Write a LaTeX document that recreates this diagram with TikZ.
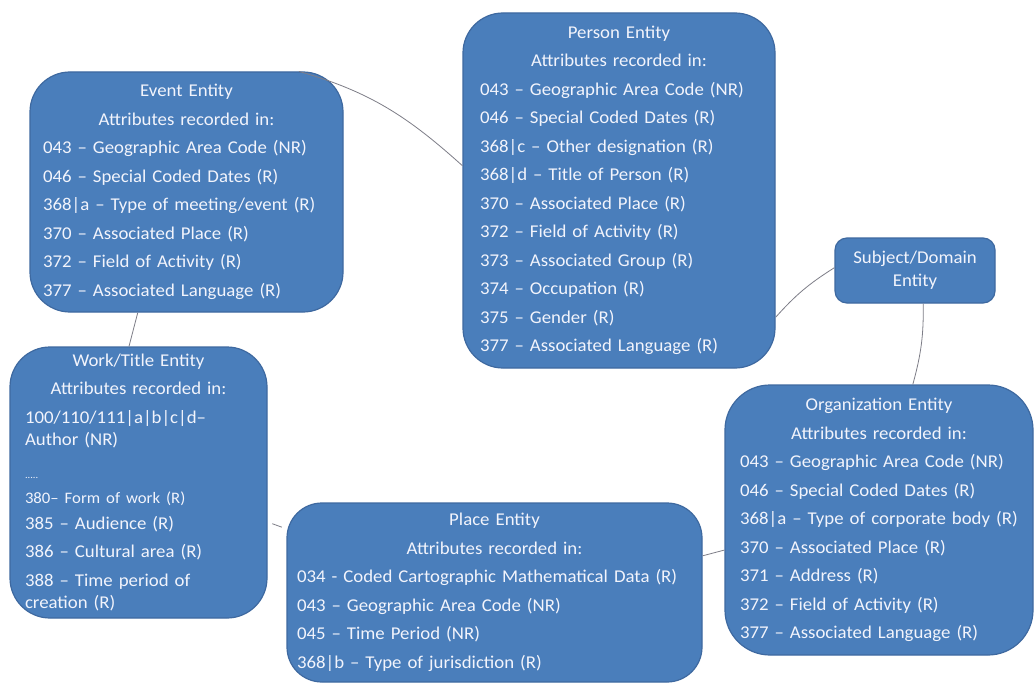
\documentclass[tikz,border=0pt]{standalone}
\usepackage{fontspec}
\setmainfont{Carlito}[FakeStretch=1.045]
\definecolor{boxfill}{RGB}{74,126,187}
\definecolor{boxline}{RGB}{62,105,160}
\definecolor{boxtext}{RGB}{242,244,252}
\definecolor{conncol}{RGB}{125,125,135}
\begin{document}
\begin{tikzpicture}[x=1pt,y=-1pt,
  entity/.style={draw=boxline, line width=1.2pt, fill=boxfill, text=boxtext,
    rounded corners=#1, align=left, inner ysep=0pt,
    font=\fontsize{18}{28.5}\selectfont},
  entity/.default=40pt,
  conn/.style={draw=conncol, line width=0.8pt}]
\useasboundingbox (0,0) rectangle (1035,682);
\fill[white] (0,0) rectangle (1035,682);

\node[entity, minimum width=313pt, minimum height=240pt, text width=287pt, inner xsep=13pt] (event) at (186.5,192) {%
\makebox[\linewidth]{Event Entity}\\
\makebox[\linewidth]{Attributes recorded in:}\\
043 – Geographic Area Code (NR)\\
046 – Special Coded Dates (R)\\
368|a – Type of meeting/event (R)\\
370 – Associated Place (R)\\
372 – Field of Activity (R)\\
377 – Associated Language (R)};

\node[entity, minimum width=312pt, minimum height=355pt, text width=278pt, inner xsep=17pt] (person) at (619,190.5) {%
\makebox[\linewidth]{Person Entity}\\
\makebox[\linewidth]{Attributes recorded in:}\\
043 – Geographic Area Code (NR)\\
046 – Special Coded Dates (R)\\
368|c – Other designation (R)\\
368|d – Title of Person (R)\\
370 – Associated Place (R)\\
372 – Field of Activity (R)\\
373 – Associated Group (R)\\
374 – Occupation (R)\\
375 – Gender (R)\\
377 – Associated Language (R)};

\node[entity=12pt, align=center, minimum width=160pt, minimum height=65pt,
  font=\fontsize{18}{23}\selectfont] (subject) at (915,270.5) {Subject/Domain\\Entity};

\node[entity, minimum width=257pt, minimum height=271pt, text width=227pt, inner xsep=15pt] (work) at (138.5,482.5) {%
\makebox[\linewidth]{Work/Title Entity}\\
\makebox[\linewidth]{Attributes recorded in:}\\
100/110/111|a|b|c|d–\\[-6pt]
Author (NR)\\[4pt]
{\fontsize{10}{12}\selectfont .....}\\[-3pt]
{\fontsize{16}{20}\selectfont 380– Form of work (R)}\\[-3pt]
385 – Audience (R)\\
386 – Cultural area (R)\\
388 – Time period of\\[-6pt]
creation (R)};

\node[entity=35pt, minimum width=415pt, minimum height=179pt, text width=395pt, inner xsep=10pt] (place) at (494.5,592.5) {%
\makebox[\linewidth]{Place Entity}\\
\makebox[\linewidth]{Attributes recorded in:}\\
034 - Coded Cartographic Mathematical Data (R)\\
043 – Geographic Area Code (NR)\\
045 – Time Period (NR)\\
368|b – Type of jurisdiction (R)};

\node[entity=45pt, minimum width=308pt, minimum height=270pt, text width=278pt, inner xsep=15pt] (org) at (879,520) {%
\makebox[\linewidth]{Organization Entity}\\
\makebox[\linewidth]{Attributes recorded in:}\\
043 – Geographic Area Code (NR)\\
046 – Special Coded Dates (R)\\
\mbox{368|a – Type of corporate body (R)}\\
370 – Associated Place (R)\\
371 – Address (R)\\
372 – Field of Activity (R)\\
377 – Associated Language (R)};

\draw[conn] (event.47.4) to[out=-16, in=138] (person.171.8);
\draw[conn] (event.248) -- (work.94.4);
\draw[conn] (person.-39.3) to[bend left=8] (subject.178);
\draw[conn] (subject.-76) to[bend left=8] (org.76.7);
\draw[conn] (place.10.2) -- (org.191.7);
\draw[conn, shorten >=5pt, shorten <=5pt] (work.-17.9) -- (place.163.2);
\end{tikzpicture}
\end{document}
